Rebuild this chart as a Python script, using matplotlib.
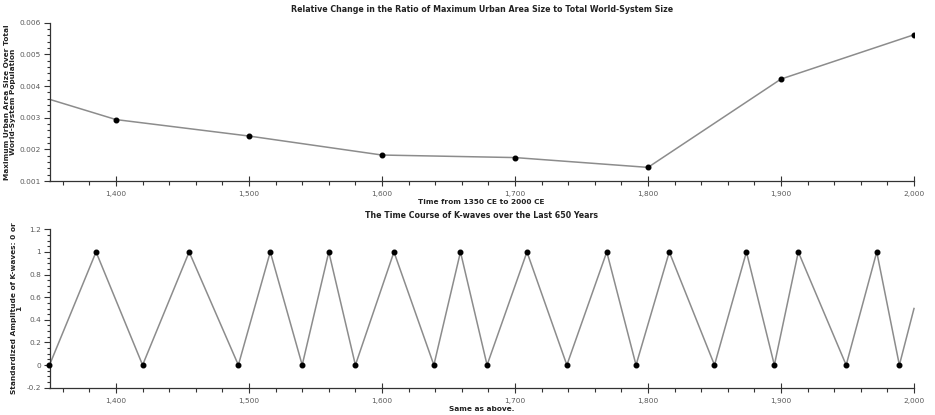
import matplotlib.pyplot as plt
from matplotlib.ticker import FuncFormatter, MultipleLocator

# Ratio of maximum urban area size to total world-system population
ratio_years = [1350, 1400, 1500, 1600, 1700, 1800, 1900, 2000]
ratio_values = [0.00358, 0.00294, 0.00242, 0.00182, 0.00174, 0.00143, 0.00422, 0.00562]

# K-wave turning points (0 = trough, 1 = peak)
kwave_years = [1350, 1385, 1420, 1455, 1492, 1516, 1540, 1560, 1580, 1609,
               1639, 1659, 1679, 1709, 1739, 1769, 1791, 1816, 1850, 1874,
               1895, 1913, 1949, 1972, 1989, 2000]
kwave_values = [0, 1, 0, 1, 0, 1, 0, 1, 0, 1,
                0, 1, 0, 1, 0, 1, 0, 1, 0, 1,
                0, 1, 0, 1, 0, 0.5]

W, H = 935, 415
fig = plt.figure(figsize=(W / 100, H / 100), dpi=100)
plt.rcParams['font.family'] = ['DejaVu Sans']

def px_axes(left, right, top, bottom):
    return fig.add_axes([left / W, 1 - bottom / H, (right - left) / W, (bottom - top) / H])

ax1 = px_axes(49.5, 914, 22.7, 181)
ax2 = px_axes(49.5, 914, 229.3, 387.7)

line_col = '#8c8c8c'
tick_col = '#5a5a5a'
label_col = '#222222'

ax1.plot(ratio_years, ratio_values, color=line_col, lw=1.1, zorder=2)
ax1.plot(ratio_years[1:], ratio_values[1:], 'o', color='black', ms=3.3, zorder=3)

ax2.plot(kwave_years, kwave_values, color=line_col, lw=1.1, zorder=2, clip_on=False)
ax2.plot(kwave_years[:-1], kwave_values[:-1], 'o', color='black', ms=3.3, zorder=3,
         clip_on=False)

comma = FuncFormatter(lambda v, p: f"{int(v):,}")

for ax in (ax1, ax2):
    ax.set_xlim(1350, 2000)
    ax.xaxis.set_major_locator(MultipleLocator(100))
    ax.xaxis.set_minor_locator(MultipleLocator(20))
    ax.xaxis.set_major_formatter(comma)
    for s in ('top', 'right'):
        ax.spines[s].set_visible(False)
    for s in ('left', 'bottom'):
        ax.spines[s].set_color('#333333')
        ax.spines[s].set_linewidth(0.9)
    ax.tick_params(axis='x', which='major', direction='inout', length=7, width=0.8,
                   color='#333333', labelsize=5.3, labelcolor=tick_col, pad=4)
    ax.tick_params(axis='x', which='minor', direction='out', length=3, width=0.8,
                   color='#333333')
    ax.tick_params(axis='y', which='major', direction='out', length=4, width=0.8,
                   color='#333333', labelsize=5.3, labelcolor=tick_col, pad=2)
    ax.tick_params(axis='y', which='minor', direction='out', length=2.5, width=0.8,
                   color='#333333')

ax1.set_ylim(0.001, 0.006)
ax1.yaxis.set_major_locator(MultipleLocator(0.001))
ax1.yaxis.set_minor_locator(MultipleLocator(0.0002))
ax1.yaxis.set_major_formatter(FuncFormatter(lambda v, p: f"{v:.3f}"))

ax2.set_ylim(-0.2, 1.2)
ax2.yaxis.set_major_locator(MultipleLocator(0.2))
ax2.yaxis.set_minor_locator(MultipleLocator(0.05))
ax2.yaxis.set_major_formatter(FuncFormatter(
    lambda v, p: "0" if abs(v) < 1e-9 else ("1" if abs(v - 1) < 1e-9 else f"{v:.1f}")))

title_kw = dict(fontsize=5.7, fontweight='bold', color=label_col)
ax1.set_title("Relative Change in the Ratio of Maximum Urban Area Size to Total World-System Size",
              pad=8, **title_kw)
ax2.set_title("The Time Course of K-waves over the Last 650 Years", pad=8, **title_kw)

lab_kw = dict(fontsize=5.3, fontweight='bold', color=label_col)
ax1.set_xlabel("Time from 1350 CE to 2000 CE", labelpad=1, **lab_kw)
ax2.set_xlabel("Same as above.", labelpad=1, **lab_kw)
ax1.set_ylabel("Maximum Urban Area Size Over Total\nWorld-System Population",
               labelpad=3, linespacing=0.95, **lab_kw)
ax2.set_ylabel("Standardized Amplitude of K-waves: 0 or\n1",
               labelpad=3, linespacing=0.95, **lab_kw)

fig.savefig("out.png", dpi=100, facecolor='white')
